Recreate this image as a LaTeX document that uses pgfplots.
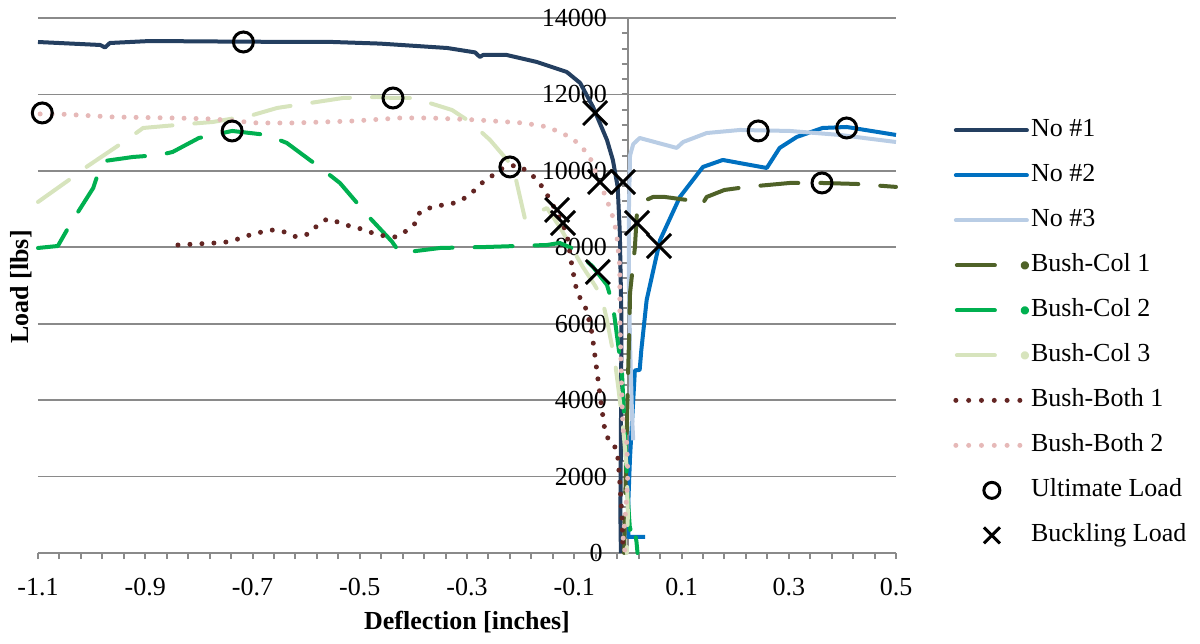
\documentclass[border=0pt]{standalone}
\usepackage{pgfplots}
\pgfplotsset{compat=1.18}
\usepackage{fontspec}
\setmainfont{Liberation Serif}
\usetikzlibrary{calc}
\definecolor{gridgray}{HTML}{8A8A8A}
\definecolor{cNoA}{HTML}{243F60}
\definecolor{cNoB}{HTML}{0070C0}
\definecolor{cNoC}{HTML}{B9CDE5}
\definecolor{cColA}{HTML}{4F6228}
\definecolor{cColB}{HTML}{00B050}
\definecolor{cColC}{HTML}{D7E4BD}
\definecolor{cBothA}{HTML}{632523}
\definecolor{cBothB}{HTML}{E6B9B8}
\begin{document}
\fontsize{13}{15}\selectfont
\begin{tikzpicture}
\begin{axis}[
  name=ax, at={(0,0)}, anchor=south west,
  scale only axis, width=429pt, height=267.5pt,
  xmin=-1.1, xmax=0.5, ymin=0, ymax=14000,
  axis x line=bottom, axis y line=center,
  axis line style={-, draw=gridgray, line width=1pt},
  scaled x ticks=false, scaled y ticks=false,
  xtick={-1.1,-0.9,-0.7,-0.5,-0.3,-0.1,0.1,0.3,0.5},
  xticklabels={-1.1,-0.9,-0.7,-0.5,-0.3,-0.1,0.1,0.3,0.5},
  ytick={0,2000,4000,6000,8000,10000,12000,14000},
  yticklabels={0,2000,4000,6000,8000,10000,12000,14000},
  minor x tick num=4, minor y tick num=4,
  xtick align=outside, ytick align=center,
  major tick length=3pt, minor tick length=3pt,
  tick style={draw=gridgray, line width=1pt},
  y tick style={xshift=-1.5pt},
  ymajorgrids, major grid style={draw=gridgray, line width=0.9pt},
  xticklabel style={font=\fontsize{13}{15}\selectfont, yshift=-5pt},
  yticklabel style={font=\fontsize{13}{15}\selectfont, xshift=-4.5pt},
  clip=false,
  legend style={draw=none, fill=none, at={(1.0664,0.815)}, anchor=north west,
    inner sep=0pt, row sep=9.5pt, column sep=1pt,
    nodes={inner sep=0pt, text height=9.5pt, text depth=3.5pt, anchor=west},
    font=\fontsize{13}{15}\selectfont},
  legend cell align=left,
]
% No #1
\addplot[cNoA, line width=2pt, line join=round,
  legend image code/.code={\draw[cNoA,line width=2pt,line cap=round] (0.5pt,0pt)--(36pt,0pt);}]
coordinates {(-1.1,13372) (-0.984,13294) (-0.975,13230) (-0.966,13346) (-0.891,13398) (-0.717,13380) (-0.55,13372) (-0.462,13330) (-0.337,13215) (-0.285,13100) (-0.276,12980) (-0.27,13032) (-0.226,13032) (-0.170,12850) (-0.114,12588) (-0.089,12300) (-0.065,11672) (-0.039,10808) (-0.028,10285) (-0.019,9580) (-0.015,8374) (-0.012,6100) (-0.013,3000) (-0.014,1000) (-0.013,0)};
\addlegendentry{No \#1}
% No #2
\addplot[cNoB, line width=2pt, line join=round,
  legend image code/.code={\draw[cNoB,line width=2pt,line cap=round] (0.5pt,0pt)--(36pt,0pt);}]
coordinates {(0.032,420) (0.001,420) (0.001,1400) (0.004,2500) (0.012,4500) (0.013,4780) (0.022,4790) (0.025,5300) (0.035,6620) (0.06,8190) (0.097,9317) (0.140,10102) (0.177,10285) (0.259,10075) (0.283,10600) (0.315,10887) (0.363,11122) (0.408,11148) (0.5,10940)};
\addlegendentry{No \#2}
% No #3
\addplot[cNoC, line width=2pt, line join=round,
  legend image code/.code={\draw[cNoC,line width=2pt,line cap=round] (0.5pt,0pt)--(36pt,0pt);}]
coordinates {(0.010,2950) (0.008,3500) (0.004,5500) (0.002,7000) (0.002,9000) (0.004,10400) (0.010,10700) (0.022,10860) (0.091,10600) (0.103,10755) (0.147,10990) (0.209,11070) (0.302,11044) (0.395,10940) (0.5,10755)};
\addlegendentry{No \#3}
% Bush-Col 1
\addplot[cColA, line width=2pt, line cap=round, line join=round, dash pattern=on 19pt off 11pt,
  legend image code/.code={\draw[cColA,line width=2pt,line cap=round] (1pt,0pt)--(23pt,0pt); \fill[cColA] (35pt,0pt) circle (1.1pt);}]
coordinates {(-0.007,0) (-0.004,2000) (0.0,4500) (0.003,6000) (0.004,6800) (0.013,7980) (0.017,8920) (0.022,9160) (0.047,9317) (0.069,9317) (0.11,9238) (0.138,9107) (0.147,9317) (0.18,9500) (0.222,9580) (0.302,9683) (0.362,9683) (0.427,9657) (0.5,9580)};
\addlegendentry{Bush-Col 1}
% Bush-Col 2
\addplot[cColB, line width=2pt, line cap=round, line join=round, dash pattern=on 19pt off 11pt,
  legend image code/.code={\draw[cColB,line width=2pt,line cap=round] (1pt,0pt)--(23pt,0pt); \fill[cColB] (35pt,0pt) circle (1.1pt);}]
coordinates {(-1.1,7982) (-1.063,8034) (-1.04,8600) (-0.997,9552) (-0.984,10101) (-0.975,10260) (-0.923,10363) (-0.873,10415) (-0.849,10494) (-0.80,10860) (-0.738,11044) (-0.673,10940) (-0.636,10730) (-0.568,10023) (-0.537,9683) (-0.481,8767) (-0.440,8150) (-0.425,7851) (-0.35,7982) (-0.263,8008) (-0.151,8060) (-0.127,8113) (-0.10,7950) (-0.065,7485) (-0.039,7014) (-0.028,6500) (-0.018,5443) (-0.011,4710) (-0.005,3000) (0.0,1387) (0.004,600) (0.01,800) (0.016,300) (0.018,0)};
\addlegendentry{Bush-Col 2}
% Bush-Col 3
\addplot[cColC, line width=2pt, line cap=round, line join=round, dash pattern=on 19pt off 11pt,
  legend image code/.code={\draw[cColC,line width=2pt,line cap=round] (1pt,0pt)--(23pt,0pt); \fill[cColC] (35pt,0pt) circle (1.1pt);}]
coordinates {(-1.1,9186) (-1.037,9814) (-1.007,10128) (-0.935,10808) (-0.904,11122) (-0.82,11227) (-0.774,11279) (-0.699,11463) (-0.654,11646) (-0.531,11907) (-0.468,11933) (-0.438,11907) (-0.400,11907) (-0.328,11593) (-0.294,11279) (-0.257,10808) (-0.214,10102) (-0.192,8750) (-0.151,9028) (-0.127,8531) (-0.084,7485) (-0.062,7014) (-0.049,6700) (-0.039,6098) (-0.024,5000) (-0.018,4344) (-0.009,3297) (-0.002,2200) (0.0,1000) (-0.002,0)};
\addlegendentry{Bush-Col 3}
% Bush-Both 1
\addplot[cBothA, line width=2.5pt, line cap=round, dash pattern=on 0pt off 6pt,
  legend image code/.code={\draw[cBothA,line width=2.5pt,line cap=round,dash pattern=on 0pt off 6.4pt] (0.5pt,0pt)--(33pt,0pt);}]
coordinates {(-0.839,8060) (-0.77,8113) (-0.748,8139) (-0.727,8217) (-0.705,8322) (-0.683,8400) (-0.662,8453) (-0.640,8400) (-0.618,8270) (-0.596,8348) (-0.580,8557) (-0.561,8741) (-0.541,8662) (-0.519,8557) (-0.497,8479) (-0.476,8374) (-0.454,8296) (-0.433,8270) (-0.41,8453) (-0.394,8662) (-0.388,8924) (-0.365,9054) (-0.345,9107) (-0.323,9160) (-0.304,9290) (-0.285,9500) (-0.27,9710) (-0.251,9892) (-0.233,10075) (-0.207,10154) (-0.188,9997) (-0.173,9814) (-0.158,9552) (-0.145,9238) (-0.132,8898) (-0.114,8374) (-0.104,7485) (-0.095,6830) (-0.077,6360) (-0.067,5757) (-0.058,4790) (-0.049,3820) (-0.043,3220) (-0.034,2880) (-0.022,2750) (-0.018,2430) (-0.015,1830) (-0.011,940) (-0.009,0)};
\addlegendentry{Bush-Both 1}
% Bush-Both 2
\addplot[cBothB, line width=2.5pt, line cap=round, dash pattern=on 0pt off 6pt,
  legend image code/.code={\draw[cBothB,line width=2.5pt,line cap=round,dash pattern=on 0pt off 6.4pt] (0.5pt,0pt)--(33pt,0pt);}]
coordinates {(-1.096,11489) (-1.05,11480) (-0.96,11410) (-0.849,11384) (-0.774,11358) (-0.691,11253) (-0.624,11253) (-0.512,11305) (-0.425,11384) (-0.369,11384) (-0.281,11332) (-0.195,11253) (-0.149,11148) (-0.108,10887) (-0.089,10677) (-0.071,10363) (-0.052,9683) (-0.039,9238) (-0.028,8793) (-0.021,8374) (-0.015,7485) (-0.015,6176) (-0.011,4000) (-0.009,3220) (-0.002,2880) (0.0,2094) (-0.002,1570) (-0.005,940) (-0.009,340) (-0.005,0)};
\addlegendentry{Bush-Both 2}
% Ultimate Load
\addplot[only marks, mark=o, mark size=5pt, mark options={draw=black, line width=1.5pt},
  legend image code/.code={\draw[black,line width=1.5pt] (18.5pt,0pt) circle (4pt);}]
coordinates {(-1.092,11515) (-0.717,13372) (-0.738,11044) (-0.438,11907) (-0.220,10102) (0.243,11044) (0.408,11122) (0.362,9683)};
\addlegendentry{Ultimate Load}
% Buckling Load
\addplot[only marks, mark=x, mark size=8.5pt, mark options={draw=black, line width=1.5pt},
  legend image code/.code={\draw[black,line width=1.5pt] (14.5pt,-4pt)--(22.5pt,4pt) (14.5pt,4pt)--(22.5pt,-4pt);}]
coordinates {(-0.061,11515) (-0.052,9710) (-0.009,9710) (-0.132,8977) (-0.121,8636) (0.017,8636) (0.058,8034) (-0.056,7354)};
\addlegendentry{Buckling Load}
\end{axis}
\node[anchor=east, font=\fontsize{13}{15}\selectfont, inner sep=0pt] at (282.5pt,0pt) {0};
\node[rotate=90, font=\bfseries\fontsize{13}{15}\selectfont] at (-8.5pt,133pt) {Load [lbs]};
\node[font=\bfseries\fontsize{13}{15}\selectfont] at (214.5pt,-34.5pt) {Deflection [inches]};
\pgfresetboundingbox
\path[use as bounding box] (-19pt,-45pt) rectangle (581pt,276.5pt);
\end{tikzpicture}
\end{document}
